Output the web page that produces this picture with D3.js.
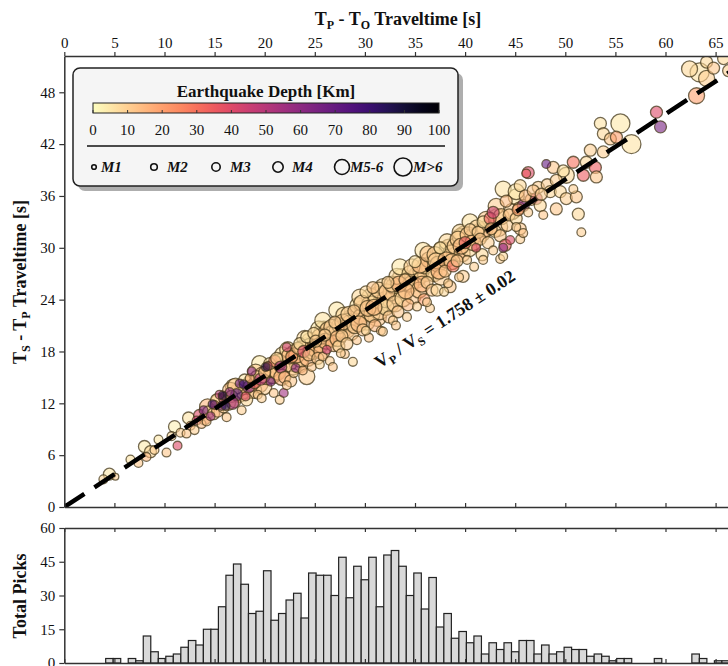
<!DOCTYPE html>
<html>
<head>
<meta charset="utf-8">
<script src="https://cdn.jsdelivr.net/npm/d3@7"></script>
<style>
  body { margin: 0; background: #fff; }
  text { font-family: "Liberation Serif", "Times New Roman", serif; fill: #111; }
</style>
</head>
<body>
<div id="chart"></div>
<script>
// ---- data ----
const xTicks = d3.range(0, 70, 5);
const yTicks = [0, 6, 12, 18, 24, 30, 36, 42, 48];
const histTicks = [0, 15, 30, 45, 60];
const depthTicks = d3.range(0, 110, 10);
const magLabels = ['M1', 'M2', 'M3', 'M4', 'M5-6', 'M>6'];
const vpvs = 1.758;
const vpvsErr = 0.02;

// histogram of Tp picks, bins of 0.75 s starting at 4.13 s
const binStart = 4.13;
const binWidth = 0.75;
const pickCounts = [2, 2, 0, 2, 1, 12, 5, 2, 3, 4, 7, 10, 8, 15, 15, 25, 39, 44, 35, 22,
  23, 41, 19, 22, 28, 31, 20, 40, 39, 39, 30, 47, 29, 43, 37, 47, 25, 48, 50, 43,
  30, 40, 24, 38, 16, 22, 11, 14, 9, 12, 4, 9, 6, 9, 5, 10, 10, 4, 8, 4,
  5, 7, 6, 6, 3, 4, 3, 1, 2, 2, 0, 0, 0, 2, 0, 0, 0, 0, 4, 2, 0, 1, 1];

// [Tp - To, Ts - Tp, depth km, magnitude class]
const quakes = [
  [3.9,3.2,8,2],[4.5,3.8,5,3],[5.1,3.5,10,1],[6.6,5.5,6,2],[7.4,5.1,12,2],[8.0,7.0,4,3],[8.2,5.8,15,2],
  [8.6,6.4,8,3],[9.0,6.6,10,2],[9.4,7.8,5,2],[10.2,6.3,12,2],[10.7,8.2,8,2],[11.0,9.3,3,3],[11.3,7.1,40,2],
  [11.6,8.6,10,2],
  [12.2,8.5,12,2],[12.4,10.3,6,3],[12.6,9.4,20,2],[13.0,8.9,10,2],[13.2,10.0,45,2],[13.5,10.6,40,3],
  [13.7,9.6,14,2],[13.9,11.2,65,2],[14.0,10.2,25,3],[14.2,9.9,12,2],[14.4,11.0,8,3],[14.6,10.5,55,2],
  [14.9,10.8,10,3],[15.0,11.8,30,2],[15.2,12.4,8,3],[15.3,11.1,15,3],[15.5,13.0,50,2],[15.7,11.7,70,2],
  [15.9,11.6,10,3],[16.0,12.6,45,3],[16.2,10.4,12,2],[16.3,12.1,8,4],[16.5,13.3,60,2],[16.7,12.8,10,3],
  [16.9,13.9,6,4],[17.0,12.2,20,3],[17.2,13.0,75,3],[17.5,14.3,70,2],[17.7,11.2,10,2],[17.8,13.4,12,4],
  [18.0,14.7,5,3],[18.1,12.8,40,2],[18.2,12.4,8,3],[18.4,13.9,60,3],[18.5,14.9,15,2],[18.7,15.7,60,2],
  [18.9,13.5,10,4],[19.0,14.4,35,3],[19.2,15.1,8,3],[19.3,13.0,12,2],[19.5,16.6,4,4],[19.6,14.8,50,3],
  [19.9,13.9,10,4],[20.0,15.6,12,3],[20.2,15.1,8,4],[20.3,16.3,45,2],[20.5,16.6,6,3],[20.6,14.5,65,2],
  [20.8,15.2,10,4],[20.9,13.2,12,2],
  [14.3,11.6,15,4],[14.8,11.9,80,2],[15.4,12.2,12,4],[15.8,12.9,90,2],[16.1,11.7,85,2],[16.6,13.5,14,4],
  [16.8,12.0,55,3],[17.1,14.0,10,4],[17.4,13.2,16,5],[17.9,14.2,80,2],[18.3,13.6,14,5],[18.6,14.3,12,4],
  [19.1,15.6,10,4],[19.4,14.3,18,5],[19.8,15.3,14,4],[20.1,16.2,90,2],[20.4,15.3,15,5],[20.7,16.0,12,4],
  [21.0,16.9,30,3],[21.2,17.2,8,3],[21.3,15.6,12,4],[21.5,12.4,10,2],[21.6,16.2,55,3],[21.8,17.6,6,4],
  [21.9,13.2,55,2],[22.0,15.0,15,3],[22.2,18.5,45,2],[22.3,18.2,8,4],[22.4,16.6,10,4],[22.6,14.6,12,3],
  [22.7,17.4,20,3],[22.9,15.5,10,2],[23.0,17.9,8,4],[23.1,16.1,60,2],[23.3,18.4,12,3],[23.5,18.9,6,3],
  [23.6,17.1,10,4],[23.8,15.8,15,2],[23.9,18.0,40,3],[24.0,19.5,8,4],[24.2,15.1,10,4],[24.2,19.7,5,3],
  [24.4,17.6,12,3],[24.5,18.6,10,4],[24.7,16.2,12,2],[24.9,20.1,8,3],
  [21.1,15.8,14,5],[21.4,16.8,10,4],[21.7,15.0,16,4],[22.1,17.0,12,5],[22.5,17.5,14,4],[22.8,16.4,10,5],
  [23.2,17.6,16,4],[23.4,16.6,12,5],[23.7,18.3,10,4],[24.1,18.5,14,5],[24.3,17.2,16,4],[24.6,19.1,12,5],
  [24.8,18.0,10,4],
  [25.0,18.3,15,4],[25.1,19.2,10,3],[25.3,17.2,12,3],[25.4,20.6,5,4],[25.6,18.8,8,4],[25.8,17.4,12,2],
  [25.8,21.6,6,4],[26.0,19.9,10,3],[26.2,18.2,45,2],[26.3,20.5,12,4],[26.5,16.9,10,2],[26.6,19.4,8,4],
  [26.8,20.1,6,4],[26.8,16.2,12,2],[27.0,21.4,10,3],[27.2,22.8,5,4],[27.2,20.3,12,4],[27.4,18.6,8,3],
  [27.5,21.0,15,4],[27.7,19.8,10,3],[27.9,22.2,8,4],[28.0,17.7,12,2],[28.2,18.9,10,3],[28.3,21.5,6,4],
  [28.5,21.3,12,4],[28.6,20.2,10,4],[28.8,16.8,8,2],[28.9,22.7,12,3],
  [25.2,18.9,14,5],[25.5,19.7,12,4],[25.7,18.0,16,4],[25.9,20.4,10,5],[26.1,19.2,14,4],[26.4,19.8,12,5],
  [26.7,20.8,10,4],[26.9,18.9,16,4],[27.1,20.9,12,5],[27.3,19.5,14,4],[27.6,20.4,10,5],[27.8,21.4,12,4],
  [28.1,20.6,16,5],[28.4,22.3,10,4],[28.7,21.8,14,5],
  [29.0,21.0,10,4],[29.2,19.3,12,2],[29.3,23.3,6,4],[29.5,24.3,8,4],[29.6,22.0,10,4],[29.8,20.5,12,3],
  [30.0,22.6,5,5],[30.1,24.9,8,3],[30.2,21.4,10,4],[30.4,19.6,12,2],[30.5,23.5,8,4],[30.7,22.3,10,4],
  [30.8,25.4,12,3],[31.0,21.0,15,3],[31.1,23.9,8,4],[31.3,24.4,6,5],[31.5,22.6,10,4],[31.6,20.4,12,2],
  [31.8,25.5,8,4],[31.8,20.3,10,2],[32.0,24.0,12,4],[32.1,23.1,6,4],[32.3,26.0,10,3],[32.4,22.0,12,3],
  [32.6,24.8,8,4],[32.8,21.6,10,2],[32.9,25.6,6,4],
  [29.1,22.2,12,5],[29.4,21.2,14,4],[29.7,23.6,10,4],[29.9,22.9,16,5],[30.3,23.0,12,4],[30.6,24.2,10,5],
  [30.9,23.1,14,4],[31.2,22.0,12,5],[31.4,25.1,10,4],[31.7,23.6,16,5],[32.2,24.9,12,4],[32.5,23.6,14,5],
  [32.7,25.8,10,4],
  [33.0,23.5,10,4],[33.2,26.7,8,4],[33.3,22.6,12,3],[33.5,27.8,5,4],[33.6,25.3,10,5],[33.8,24.1,8,4],
  [34.0,26.3,12,3],[34.2,22.0,10,2],[34.3,23.4,15,3],[34.5,27.0,8,4],[34.6,25.8,10,4],[34.8,24.4,12,4],
  [35.0,28.4,6,3],[35.1,26.4,8,5],[35.2,23.2,10,2],[35.4,25.1,12,4],[35.6,27.3,10,4],[35.8,29.7,6,4],
  [35.9,24.0,20,3],[36.0,27.9,8,4],[36.2,26.0,10,3],[36.4,28.6,12,4],[36.5,23.0,10,2],[36.7,25.1,12,3],
  [36.9,27.0,8,4],
  [33.1,24.6,12,5],[33.4,25.8,16,4],[33.7,26.5,10,5],[34.1,25.0,14,4],[34.4,26.0,12,5],[34.7,27.8,10,4],
  [35.3,26.8,12,5],[35.5,28.0,14,4],[35.7,25.8,16,4],[36.1,27.2,10,5],[36.3,29.3,12,4],[36.6,27.6,14,5],
  [37.0,29.2,10,4],[37.2,25.1,8,3],[37.3,28.1,12,4],[37.5,30.0,6,3],[37.6,26.6,10,4],[37.8,28.8,5,5],
  [38.0,27.3,12,3],[38.2,30.7,8,4],[38.3,25.9,10,2],[38.5,25.5,12,3],[38.6,29.4,8,4],[38.8,27.9,30,3],
  [39.0,30.2,10,4],[39.2,28.5,12,3],[39.4,26.6,10,2],[39.5,31.3,6,4],[39.5,31.8,8,4],[39.7,29.3,12,4],
  [39.8,26.7,10,3],[40.0,30.6,35,3],[40.2,28.6,10,2],[40.4,29.9,8,4],[40.5,33.0,6,4],[40.5,32.1,10,3],
  [40.7,31.2,12,4],[40.9,27.8,10,2],
  [37.1,28.5,10,4],[37.4,27.3,16,4],[37.7,29.6,12,5],[38.1,28.6,14,4],[38.4,29.9,10,5],[38.7,28.4,12,4],
  [39.1,29.5,16,5],[39.3,31.0,10,4],[39.6,30.2,14,4],[39.9,31.4,12,5],
  [41.1,30.0,40,2],[41.3,31.8,10,3],[41.5,31.0,12,3],[41.7,29.2,8,3],[41.8,28.6,10,2],[41.8,33.0,6,3],
  [42.0,32.2,12,4],[42.3,30.6,10,3],[42.5,33.4,35,3],[42.8,34.1,45,3],[42.8,29.7,10,2],[43.0,31.9,8,3],
  [43.2,33.6,6,4],[43.3,32.4,10,5],[43.5,31.4,12,3],[43.5,28.7,10,2],[43.8,29.0,8,2],[43.8,30.0,60,2],
  [43.8,36.8,6,4],[44.0,30.3,35,3],[44.2,32.6,10,3],[44.4,33.8,12,3],[44.5,30.9,40,2],
  [40.3,31.5,12,4],[40.8,30.6,14,4],[41.2,32.3,10,4],[41.6,31.8,16,5],[42.1,33.3,12,4],[42.6,32.2,14,3],
  [43.1,34.8,10,4],[43.6,33.6,12,4],[44.1,35.4,14,3],[44.7,34.2,10,4],
  [45.1,32.4,10,2],[45.1,35.9,6,4],[45.1,33.4,8,3],[45.1,36.5,5,4],[45.4,34.6,10,3],[45.5,32.2,12,3],
  [45.5,37.2,8,3],[45.5,31.0,10,2],[45.8,31.7,12,2],[45.8,34.9,60,3],[46.1,38.6,35,2],[46.3,38.7,40,3],
  [46.3,34.1,10,2],[46.6,35.6,12,3],[47.1,35.7,45,3],[47.3,37.0,10,3],[47.5,34.9,8,3],[47.8,33.8,12,2],
  [48.1,39.7,70,2],[48.2,37.3,10,3],[48.5,36.5,8,3],[48.8,39.3,12,3],
  [45.3,34.4,20,3],[46.0,36.0,14,3],[46.8,36.6,12,3],[47.6,36.2,10,3],
  [49.1,37.8,10,3],[49.1,34.5,12,3],[49.5,36.5,8,3],[49.8,38.9,6,3],[50.1,38.4,8,4],[50.1,35.7,10,3],
  [50.8,39.9,30,3],[50.8,36.8,10,2],[51.1,35.9,12,3],[51.3,33.9,8,3],[51.6,31.8,10,2],[51.8,38.4,35,3],
  [52.1,39.9,8,3],[52.5,41.3,10,3],[53.0,39.3,35,3],[53.1,38.2,12,3],[53.5,44.4,6,3],[53.8,43.2,8,3],
  [53.8,41.1,10,3],[54.5,42.6,12,3],[55.1,42.8,20,3],[55.5,44.4,5,5],[56.6,42.0,6,5],
  [59.1,45.7,40,3],[59.5,44.0,65,3],[62.4,50.7,8,4],[63.1,47.6,20,4],[63.4,50.3,6,5],[64.1,51.5,8,3],
  [64.1,49.6,10,4],[64.8,50.8,12,3],[65.8,51.9,8,3],[66.3,50.5,10,3],
  [19.7,12.6,10,2],[22.2,14.1,12,2],[25.5,16.5,8,2],[27.6,17.8,10,2],[30.1,20.4,8,2],[33.1,21.0,12,2],
  [36.2,23.7,10,2],[37.9,24.9,8,2]
];

// ---- layout / style ----
const width = 728, height = 666;
const left = 64.3;
const magRadius = [2.4, 3.4, 4.4, 6, 8, 9.5];
const legendRadius = [2.3, 3.3, 4.2, 5.2, 7.5, 9];
const legendPos = [[94, 101], [154, 167], [216, 230], [278, 292], [342, 350], [403, 413]];
const depthColor = d => d3.interpolateMagma(1 - d / 100);

const svg = d3.select('#chart').append('svg')
  .attr('width', width)
  .attr('height', height);

let x = d3.scaleLinear().domain([0, 67]).range([left, left + 67 * 10.02]);
let y = d3.scaleLinear().domain([0, 52.2]).range([507, 56]);
let yh = d3.scaleLinear().domain([0, 60]).range([663, 528]);

svg.append('clipPath').attr('id', 'clip')
  .append('rect')
  .attr('x', left).attr('y', 56)
  .attr('width', width - left).attr('height', 507 - 56);

// ---- scatter ----
let pts = svg.append('g').attr('clip-path', 'url(#clip)');

pts.selectAll('circle')
  .data(quakes.slice().sort((a, b) => b[3] - a[3]))
  .enter().append('circle')
  .attr('cx', d => x(d[0]))
  .attr('cy', d => y(d[1]))
  .attr('r', d => magRadius[d[3]])
  .attr('fill', d => depthColor(d[2]))
  .attr('fill-opacity', 0.6)
  .attr('stroke', '#463a1c')
  .attr('stroke-opacity', 0.75)
  .attr('stroke-width', 1.3);

pts.append('line')
  .attr('x1', x(0)).attr('y1', y(0))
  .attr('x2', x(67)).attr('y2', y(67 * (vpvs - 1)))
  .attr('stroke', '#000')
  .attr('stroke-width', 4.5)
  .attr('stroke-dasharray', '24,12');

// rotated annotation parallel to the line
let angle = Math.atan2(y(0) - y(vpvs - 1), x(1) - x(0)) * 180 / Math.PI;
let note = svg.append('text')
  .attr('transform', 'translate(448,324) rotate(' + (-angle) + ')')
  .attr('text-anchor', 'middle')
  .attr('font-weight', 'bold')
  .attr('font-size', 18);
note.append('tspan').text('V');
note.append('tspan').attr('font-size', 12).attr('dy', 4).text('P');
note.append('tspan').attr('dy', -4).text(' / V');
note.append('tspan').attr('font-size', 12).attr('dy', 4).text('S');
note.append('tspan').attr('dy', -4).text(' = ' + vpvs + ' \u00b1 ' + vpvsErr);

// ---- axes ----
function styleAxis(g) {
  g.select('.domain').attr('stroke', '#333').attr('stroke-width', 1.5);
  g.selectAll('.tick line').attr('stroke', '#333').attr('stroke-width', 1.2);
  g.selectAll('.tick text').attr('font-size', 15).attr('fill', '#111')
    .attr('font-family', '"Liberation Serif", serif');
}

svg.append('g')
  .attr('transform', 'translate(0,56)')
  .call(d3.axisTop(x).tickValues(xTicks).tickSize(4).tickPadding(4).tickSizeOuter(0))
  .call(styleAxis);

svg.append('g')
  .attr('transform', 'translate(0,507)')
  .call(d3.axisBottom(x).tickValues(xTicks).tickSize(-4).tickFormat('').tickSizeOuter(0))
  .call(styleAxis);

svg.append('g')
  .attr('transform', 'translate(' + left + ',0)')
  .call(d3.axisLeft(y).tickValues(yTicks).tickSize(5).tickPadding(4).tickSizeOuter(0))
  .call(styleAxis);

// ---- histogram ----
svg.append('g')
  .selectAll('rect')
  .data(pickCounts.map((c, i) => ({ x0: binStart + i * binWidth, c })).filter(d => d.c > 0))
  .enter().append('rect')
  .attr('x', d => x(d.x0))
  .attr('y', d => yh(d.c))
  .attr('width', d => x(d.x0 + binWidth) - x(d.x0))
  .attr('height', d => yh(0) - yh(d.c))
  .attr('fill', '#d9d9d9')
  .attr('stroke', '#222')
  .attr('stroke-width', 1.2);

svg.append('g')
  .attr('transform', 'translate(0,528)')
  .call(d3.axisTop(x).tickValues(xTicks).tickSize(-4).tickFormat('').tickSizeOuter(0))
  .call(styleAxis);

svg.append('g')
  .attr('transform', 'translate(0,663)')
  .call(d3.axisBottom(x).tickValues(xTicks).tickSize(-4).tickFormat('').tickSizeOuter(0))
  .call(styleAxis);

svg.append('g')
  .attr('transform', 'translate(' + left + ',0)')
  .call(d3.axisLeft(yh).tickValues(histTicks).tickSize(5).tickPadding(4).tickSizeOuter(0))
  .call(styleAxis);

// ---- axis titles ----
let xt = svg.append('text')
  .attr('x', 398).attr('y', 25)
  .attr('text-anchor', 'middle')
  .attr('font-weight', 'bold')
  .attr('font-size', 18);
xt.append('tspan').text('T');
xt.append('tspan').attr('font-size', 12).attr('dy', 4).text('P');
xt.append('tspan').attr('dy', -4).text(' - T');
xt.append('tspan').attr('font-size', 12).attr('dy', 4).text('O');
xt.append('tspan').attr('dy', -4).text(' Traveltime [s]');

let yt = svg.append('text')
  .attr('transform', 'translate(26,282) rotate(-90)')
  .attr('text-anchor', 'middle')
  .attr('font-weight', 'bold')
  .attr('font-size', 18);
yt.append('tspan').text('T');
yt.append('tspan').attr('font-size', 12).attr('dy', 4).text('S');
yt.append('tspan').attr('dy', -4).text(' - T');
yt.append('tspan').attr('font-size', 12).attr('dy', 4).text('P');
yt.append('tspan').attr('dy', -4).text(' Traveltime [s]');

svg.append('text')
  .attr('transform', 'translate(26,596) rotate(-90)')
  .attr('text-anchor', 'middle')
  .attr('font-weight', 'bold')
  .attr('font-size', 18)
  .text('Total Picks');

// ---- legend ----
let lg = svg.append('g');

lg.append('rect')
  .attr('x', 78).attr('y', 73).attr('width', 385).attr('height', 118).attr('rx', 7)
  .attr('fill', '#9a9a9a').attr('opacity', 0.8);

lg.append('rect')
  .attr('x', 73).attr('y', 68).attr('width', 385).attr('height', 118).attr('rx', 7)
  .attr('fill', '#f5f5f5').attr('stroke', '#222').attr('stroke-width', 1.5);

lg.append('text')
  .attr('x', 266).attr('y', 97)
  .attr('text-anchor', 'middle')
  .attr('font-weight', 'bold')
  .attr('font-size', 17)
  .text('Earthquake Depth [Km]');

let grad = svg.append('defs').append('linearGradient').attr('id', 'magma');
grad.selectAll('stop')
  .data(d3.range(0, 1.001, 0.05))
  .enter().append('stop')
  .attr('offset', d => d * 100 + '%')
  .attr('stop-color', d => depthColor(d * 100));

let cb = d3.scaleLinear().domain([0, 100]).range([93, 439]);

lg.append('rect')
  .attr('x', cb(0)).attr('y', 103).attr('width', cb(100) - cb(0)).attr('height', 10)
  .attr('fill', 'url(#magma)').attr('stroke', '#222').attr('stroke-width', 1);

lg.selectAll('.cbtick')
  .data(depthTicks)
  .enter().append('line')
  .attr('x1', d => cb(d)).attr('x2', d => cb(d))
  .attr('y1', 113).attr('y2', 110)
  .attr('stroke', '#333');

lg.selectAll('.cblabel')
  .data(depthTicks)
  .enter().append('text')
  .attr('x', d => cb(d)).attr('y', 135)
  .attr('text-anchor', 'middle')
  .attr('font-size', 15)
  .text(d => d);

lg.append('line')
  .attr('x1', 87).attr('x2', 445).attr('y1', 146).attr('y2', 146)
  .attr('stroke', '#111').attr('stroke-width', 1.3);

let items = lg.selectAll('.mag')
  .data(magLabels)
  .enter().append('g');

items.append('circle')
  .attr('cx', (d, i) => legendPos[i][0])
  .attr('cy', 167)
  .attr('r', (d, i) => legendRadius[i])
  .attr('fill', 'none')
  .attr('stroke', '#111')
  .attr('stroke-width', 1.6);

items.append('text')
  .attr('x', (d, i) => legendPos[i][1])
  .attr('y', 172)
  .attr('font-weight', 'bold')
  .attr('font-style', 'italic')
  .attr('font-size', 15)
  .text(d => d);
</script>
</body>
</html>
